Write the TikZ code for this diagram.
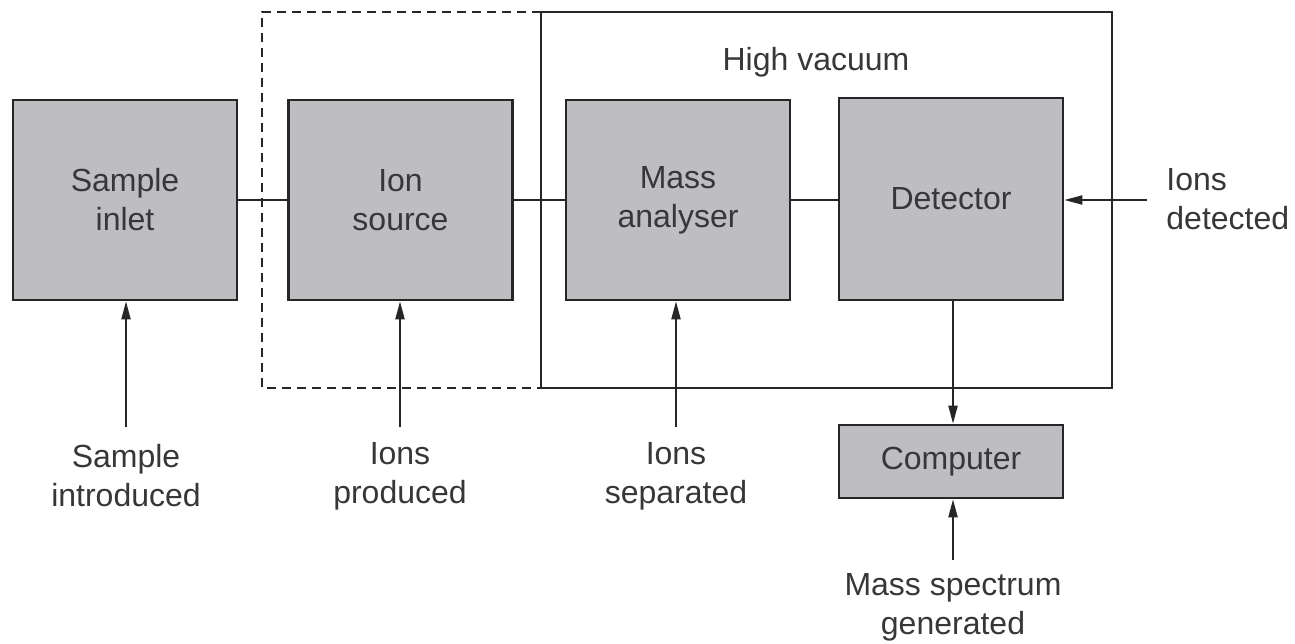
\documentclass[tikz,border=0pt]{standalone}
\usepackage{fontspec}
\setmainfont{Liberation Sans}
\usetikzlibrary{arrows.meta}
\definecolor{boxfill}{RGB}{190,190,194}
\definecolor{txt}{RGB}{55,55,58}
\tikzset{
  blk/.style={draw=black!85, line width=1.3pt, fill=boxfill, minimum width=112pt, inner sep=0pt, align=center, text=txt, font=\fontsize{16}{19.5}\selectfont},
  lbl/.style={inner sep=0pt, align=center, text=txt, font=\fontsize{16}{19.5}\selectfont},
  conn/.style={draw=black!85, line width=1pt},
  arr/.style={conn, -{Triangle[length=9pt,width=4.5pt]}},
  encl/.style={draw=black!85, line width=1pt},
  dashencl/.style={encl, dash pattern=on 4.5pt off 3pt}
}
\begin{document}
\begin{tikzpicture}[x=0.5pt,y=-0.5pt]
\useasboundingbox (0,0) rectangle (1295,643);
% enclosures
\draw[dashencl] (541,12) -- (262,12) -- (262,388) -- (541,388);
\draw[encl] (541,12) rectangle (1112,388);
\node[lbl] (hv) at (816,62) {High vacuum};
% boxes
\node[blk, minimum height=100pt] (inlet) at (125,200) {Sample\\inlet};
\node[blk, minimum height=100pt] (src) at (400.5,200) {Ion\\source};
\node[blk, minimum height=100pt] (ana) at (678,200) {Mass\\analyser};
\node[blk, minimum height=101pt] (det) at (951,199) {Detector};
\node[blk, minimum height=36.5pt] (comp) at (951,461.5) {Computer};
% connectors
\draw[conn] (inlet.east) -- (src.west);
\draw[conn] (src.east) -- (ana.west);
\draw[conn] (ana.east) -- (det.west |- ana.east);
% labels
\node[lbl] (l1) at (126,476) {Sample\\introduced};
\node[lbl] (l2) at (400,476) {Ions\\produced};
\node[lbl] (l3) at (676,476) {Ions\\separated};
\node[lbl] (l4) at (953,607) {Mass spectrum\\generated};
\node[lbl, anchor=west, align=left] (l5) at (1166,199) {Ions\\detected};
% arrows
\coordinate (a1) at (126,427);
\coordinate (a2) at (400,427);
\coordinate (a3) at (676,427);
\coordinate (a4) at (953,560);
\coordinate (a5) at (1147,200);
\draw[arr] (a1) -- (inlet.south -| a1);
\draw[arr] (a2) -- (src.south -| a2);
\draw[arr] (a3) -- (ana.south -| a3);
\draw[arr] (a4) -- (comp.south -| a4);
\draw[arr] (a5) -- (det.east |- a5);
\draw[arr] (det.south -| a4) -- (comp.north -| a4);
\end{tikzpicture}
\end{document}
